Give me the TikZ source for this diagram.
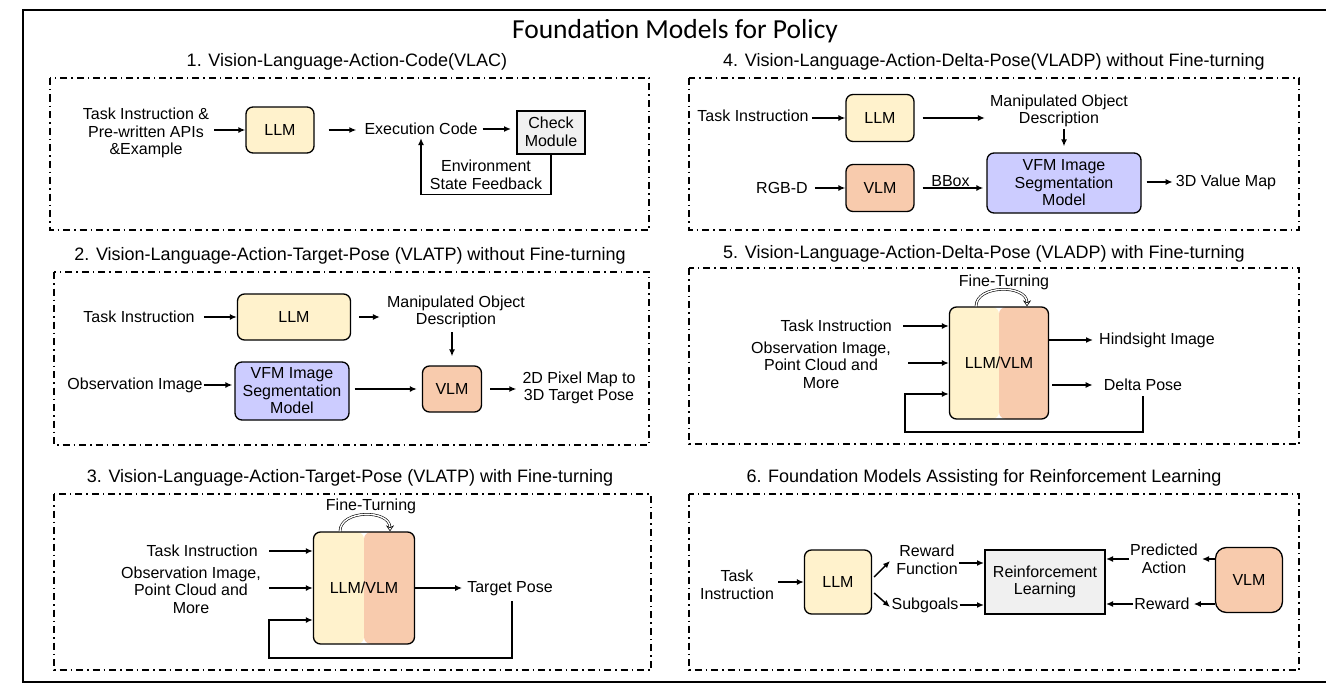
\documentclass[tikz,border=0pt]{standalone}
\usepackage{fontspec}
\setmainfont{Liberation Sans}
\newfontfamily\titlefont{Carlito}
\usepackage{tikz}
\usetikzlibrary{arrows.meta, positioning, calc}

\definecolor{llmcol}{HTML}{FFF2CC}
\definecolor{vlmcol}{HTML}{F8CBAD}
\definecolor{vfmcol}{HTML}{CCCCFF}
\definecolor{chkcol}{HTML}{F0F0F0}

\begin{document}
\begin{tikzpicture}[x=1pt, y=-1pt,
    txt/.style={align=center, inner sep=1pt, font=\fontsize{16}{17.5}\selectfont},
    head/.style={inner sep=0pt, font=\fontsize{18}{21}\selectfont},
    blk/.style={draw, line width=1.3pt, rounded corners=7pt, align=center, inner sep=1pt, font=\fontsize{16}{17.5}\selectfont},
    llm/.style={blk, fill=llmcol},
    vlm/.style={blk, fill=vlmcol},
    vfm/.style={blk, fill=vfmcol},
    chk/.style={draw, line width=2pt, fill=chkcol, align=center, inner sep=1pt, font=\fontsize{16}{17.5}\selectfont},
    split/.style={blk, path picture={
        \fill[llmcol] (path picture bounding box.north west) rectangle (path picture bounding box.south);
        \fill[vlmcol] (path picture bounding box.north) rectangle (path picture bounding box.south east);}},
    arr/.style={-{Latex[length=7pt,width=6pt]}, line width=1.5pt},
    tune/.style={double, double distance=1.4pt, line width=0.6pt, -{Stealth[length=6pt,width=8pt,open]}},
    panel/.style={line width=1.8pt, dash pattern=on 7pt off 4pt on 1.5pt off 4pt},
]
\useasboundingbox (0,0) rectangle (1326,685);
\draw[line width=2.5pt] (23,10) rectangle (1345,682);
\node[inner sep=0pt, font=\titlefont\fontsize{27.5}{31}\selectfont] (title) at (675,31) {Foundation Models for Policy};

% 1. VLAC
\node[head] (h1) at (347,62) {1. Vision-Language-Action-Code(VLAC)};
\draw[panel] (50,78) rectangle (649,230);
\node[txt] (p1in) at (146,133) {Task Instruction \&\\Pre-written APIs\\\&Example};
\node[llm, minimum width=68, minimum height=46] (p1llm) at (280,130) {LLM};
\node[txt] (p1code) at (421,129) {Execution Code};
\node[chk, minimum width=68, minimum height=43] (p1chk) at (551,132) {Check\\Module};
\node[txt] (p1fb) at (486,175) {Environment\\State Feedback};
\draw[arr, shorten <=4pt] (p1in.east |- p1llm.west) -- (p1llm.west);
\draw[arr, shorten <=14pt, shorten >=7pt] (p1llm.east) -- (p1llm.east -| p1code.west);
\draw[arr, shorten <=4pt, shorten >=5pt] (p1code.east) -- (p1code.east -| p1chk.west);
\draw[arr, shorten >=2pt] (p1chk.south) -- ++(0,40) -| (p1code.south);

% 2. VLATP without fine-turning
\node[head] (h2) at (350,256) {2. Vision-Language-Action-Target-Pose (VLATP) without Fine-turning};
\draw[panel] (54,272) rectangle (649,445);
\node[txt] (p2task) at (139,317) {Task Instruction};
\node[llm, minimum width=113, minimum height=46] (p2llm) at (294,317) {LLM};
\node[txt] (p2desc) at (456,312) {Manipulated Object\\Description};
\node[txt] (p2obs) at (135,385) {Observation Image};
\node[vfm, minimum width=114, minimum height=58] (p2vfm) at (292,391) {VFM Image\\Segmentation\\Model};
\node[vlm, minimum width=59, minimum height=46] (p2vlm) at (452,389) {VLM};
\node[txt] (p2out) at (579,388) {2D Pixel Map to\\3D Target Pose};
\draw[arr, shorten <=8pt] (p2task.east) -- (p2task.east -| p2llm.west);
\draw[arr, shorten <=8pt, shorten >=6pt] (p2llm.east) -- (p2llm.east -| p2desc.west);
\draw[arr, shorten <=3pt, shorten >=9pt] (p2desc.south -| p2vlm.north) -- (p2vlm.north);
\draw[arr, shorten >=2pt] (p2obs.east) -- (p2obs.east -| p2vfm.west);
\draw[arr, shorten <=5pt, shorten >=5pt] (p2vfm.east |- p2vlm.west) -- (p2vlm.west);
\draw[arr, shorten <=8pt, shorten >=5pt] (p2vlm.east) -- (p2vlm.east -| p2out.west);

% 3. VLATP with fine-turning
\node[head] (h3) at (350,478) {3. Vision-Language-Action-Target-Pose (VLATP) with Fine-turning};
\draw[panel] (54,494) rectangle (651,670);
\node[split, minimum width=101, minimum height=112] (p3llm) at (364,588) {LLM/VLM};
\node[txt] (p3tune) at (371,506) {Fine-Turning};
\node[txt, anchor=east] (p3task) at (259,551) {Task Instruction};
\node[txt] (p3obs) at (191,590) {Observation Image,\\Point Cloud and\\More};
\node[txt] (p3tgt) at (510,589) {Target Pose};
\coordinate (p3corner) at (269,658);
\draw[tune] ([xshift=-24pt]p3llm.north) .. controls +(0,-22) and +(0,-22) .. ([xshift=26pt]p3llm.north);
\draw[arr, shorten <=10pt] (p3task.east) -- (p3task.east -| p3llm.west);
\draw[arr, shorten <=7pt] (p3obs.east |- p3llm.west) -- (p3llm.west);
\draw[arr, shorten >=4pt] (p3llm.east) -- (p3llm.east -| p3tgt.west);
\draw[arr] ([xshift=2pt,yshift=-4pt]p3tgt.south) |- (p3corner) |- ([yshift=-32pt]p3llm.west);

% 4. VLADP without fine-turning
\node[head] (h4) at (994,62) {4. Vision-Language-Action-Delta-Pose(VLADP) without Fine-turning};
\draw[panel] (689,78) rectangle (1299,230);
\node[txt] (p4task) at (753,116) {Task Instruction};
\node[llm, minimum width=68, minimum height=47] (p4llm) at (880,118) {LLM};
\node[txt] (p4desc) at (1059,111) {Manipulated Object\\Description};
\node[txt] (p4rgb) at (782,188) {RGB-D};
\node[vlm, minimum width=68, minimum height=47] (p4vlm) at (880,188) {VLM};
\node[vfm, minimum width=154, minimum height=60] (p4vfm) at (1064,183) {VFM Image\\Segmentation\\Model};
\node[txt] (p4val) at (1226,182) {3D Value Map};
\draw[arr, shorten <=2pt] (p4task.east |- p4llm.west) -- (p4llm.west);
\draw[arr, shorten <=8pt, shorten >=4pt] (p4llm.east) -- (p4llm.east -| p4desc.west);
\draw[arr, shorten <=1pt, shorten >=6pt] (p4desc.south -| p4vfm.north) -- (p4vfm.north);
\draw[arr, shorten <=6pt] (p4rgb.east |- p4vlm.west) -- (p4vlm.west);
\draw[arr, shorten <=8pt, shorten >=3pt] (p4vlm.east) -- node[txt, above] (p4box) {BBox} (p4vlm.east -| p4vfm.west);
\draw[arr, shorten <=5pt, shorten >=2pt] (p4vfm.east |- p4val.west) -- (p4val.west);

% 5. VLADP with fine-turning
\node[head] (h5) at (984,254) {5. Vision-Language-Action-Delta-Pose (VLADP) with Fine-turning};
\draw[panel] (689,268) rectangle (1299,444);
\node[split, minimum width=99, minimum height=112] (p5llm) at (999,363) {LLM/VLM};
\node[txt] (p5tune) at (1004,282) {Fine-Turning};
\node[txt, anchor=east] (p5task) at (893,326) {Task Instruction};
\node[txt] (p5obs) at (821,365) {Observation Image,\\Point Cloud and\\More};
\node[txt] (p5hind) at (1157,340) {Hindsight Image};
\node[txt] (p5delta) at (1143,385) {Delta Pose};
\coordinate (p5corner) at (905,432);
\draw[tune] ([xshift=-23pt]p5llm.north) .. controls +(0,-22) and +(0,-22) .. ([xshift=28pt]p5llm.north);
\draw[arr, shorten <=10pt] (p5task.east) -- (p5task.east -| p5llm.west);
\draw[arr, shorten <=16pt] (p5obs.east |- p5llm.west) -- (p5llm.west);
\draw[arr, shorten >=5pt] (p5llm.east |- p5hind.west) -- (p5hind.west);
\draw[arr, shorten <=3pt, shorten >=10pt] (p5llm.east |- p5delta.west) -- (p5delta.west);
\draw[arr] ([yshift=-4pt]p5delta.south) |- (p5corner) |- ([yshift=-31pt]p5llm.west);

% 6. Foundation models for RL
\node[head] (h6) at (984,478) {6. Foundation Models Assisting for Reinforcement Learning};
\draw[panel] (689,494) rectangle (1299,670);
\node[txt] (p6task) at (737,585) {Task\\Instruction};
\node[llm, minimum width=67, minimum height=64] (p6llm) at (838,582) {LLM};
\node[txt] (p6rf) at (927,560) {Reward\\Function};
\node[txt] (p6sub) at (925,605) {Subgoals};
\node[chk, minimum width=120, minimum height=64] (p6rl) at (1045,582) {Reinforcement\\Learning};
\node[txt] (p6pa) at (1164,559) {Predicted\\Action};
\node[txt] (p6rw) at (1162,604) {Reward};
\node[vlm, rounded corners=11pt, minimum width=67, minimum height=65] (p6vlm) at (1249,580) {VLM};
\coordinate (p6up) at (890,561);
\coordinate (p6dn) at (890,607);
\draw[arr, shorten <=3pt] (p6task.east |- p6llm.west) -- (p6llm.west);
\draw[arr] ([xshift=2pt,yshift=5pt]p6llm.east) -- (p6up);
\draw[arr] ([xshift=2pt,yshift=-11pt]p6llm.east) -- (p6dn);
\draw[arr] ([yshift=-3pt]p6rf.east) -- ([yshift=-3pt]p6rf.east -| p6rl.west);
\draw[arr] (p6sub.east) -- (p6sub.east -| p6rl.west);
\draw[arr, shorten >=3pt] (p6vlm.west |- p6pa.east) -- (p6pa.east);
\draw[arr] (p6pa.west) -- (p6pa.west -| p6rl.east);
\draw[arr, shorten >=3pt] (p6vlm.west |- p6rw.east) -- (p6rw.east);
\draw[arr] (p6rw.west) -- (p6rw.west -| p6rl.east);
\end{tikzpicture}
\end{document}
